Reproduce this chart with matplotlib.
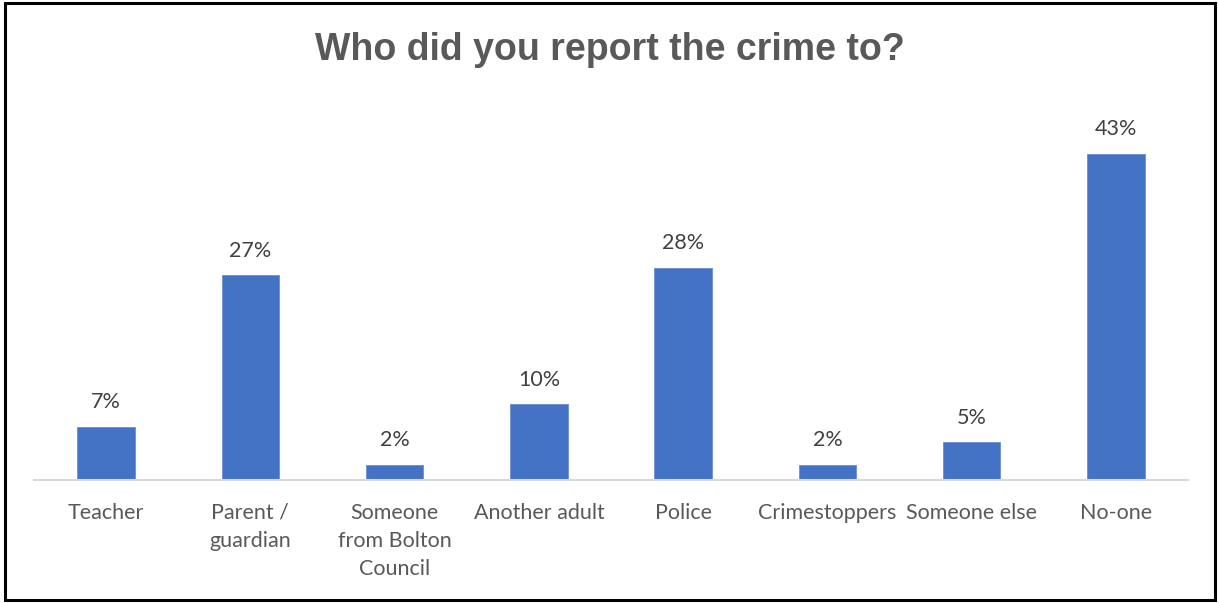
import matplotlib.pyplot as plt
from matplotlib.patches import Rectangle

categories = ["Teacher", "Parent /\nguardian", "Someone\nfrom Bolton\nCouncil", "Another adult",
              "Police", "Crimestoppers", "Someone else", "No-one"]
percent = [7, 27, 2, 10, 28, 2, 5, 43]
title = "Who did you report the crime to?"

W, H = 1219, 603
fig = plt.figure(figsize=(W / 100, H / 100), dpi=100)
fig.patch.set_facecolor("white")

# axes box in pixel coords: baseline y=480, top of tallest bar y=154
ax = fig.add_axes([34 / W, (H - 480) / H, 1154 / W, 326 / H])
x = range(len(categories))
bars = ax.bar(x, percent, width=0.4, color="#4472C4", edgecolor="#6A8FD2", linewidth=0.6)
ax.set_xlim(-0.5, len(categories) - 0.5)
ax.set_ylim(0, max(percent))

for b, v in zip(bars, percent):
    ax.annotate(f"{v}%", (b.get_x() + b.get_width() / 2, v), xytext=(0, 10.5),
                textcoords="offset points", ha="center", va="bottom",
                fontsize=15.5, color="#404040", family="Lato", annotation_clip=False)

ax.set_xticks(list(x))
ax.set_xticklabels(categories, fontsize=15.5, color="#595959", family="Lato", linespacing=1.5, va="top")
ax.tick_params(axis="x", length=0, pad=16.5)
ax.set_yticks([])
for s in ["top", "right", "left"]:
    ax.spines[s].set_visible(False)
ax.spines["bottom"].set_color("#D9D9D9")
ax.spines["bottom"].set_linewidth(1.5)

fig.text(0.5, 1 - 50 / H, title, ha="center", va="center", fontsize=27, fontweight="bold",
         color="#595959", family="Liberation Sans")

# outer frame
fig.patches.append(Rectangle((5 / W, 3 / H), 1210 / W, 597 / H, transform=fig.transFigure,
                             fill=False, edgecolor="black", linewidth=2.2))

fig.savefig("out.png", dpi=100)
